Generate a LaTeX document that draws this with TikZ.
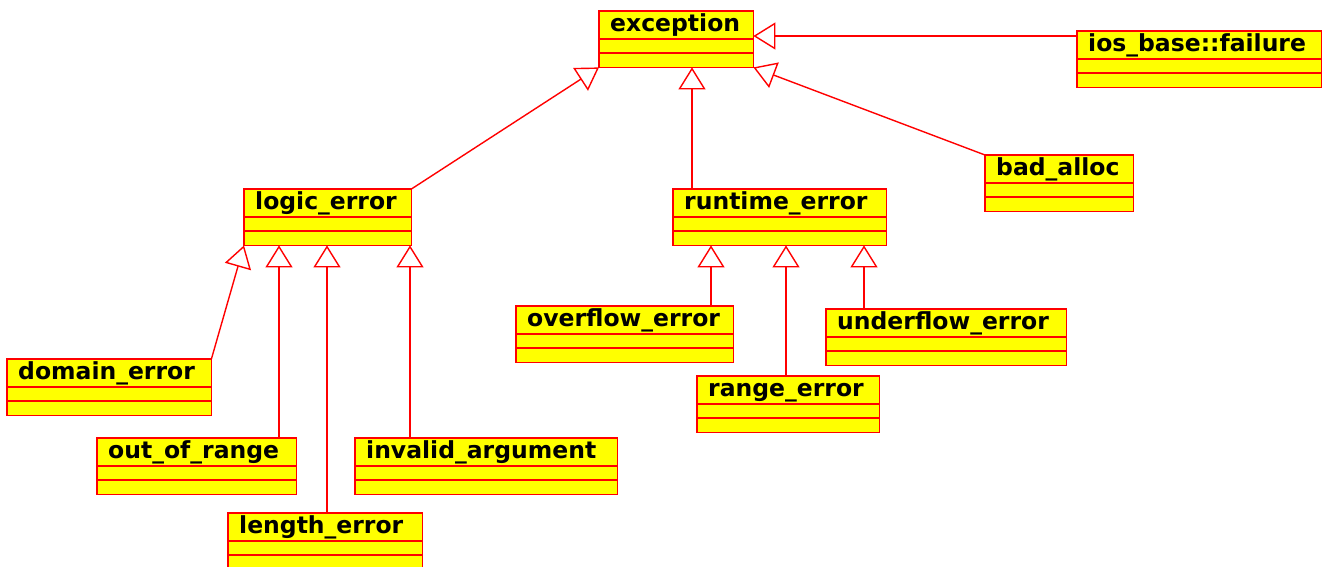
\documentclass[tikz,border=0pt]{standalone}
\usepackage{fontspec}
\setmainfont{DejaVu Sans}
\usetikzlibrary{arrows.meta}
\definecolor{umlred}{RGB}{255,0,0}
\definecolor{umlyel}{RGB}{255,255,0}
\newcommand\umlclass[5]{% name, x, y, width, label
  \node[cls, minimum width=#4pt] (#1) at (#2,#3) {};
  \draw[sep] ([yshift=-28pt]#1.north west) -- ([yshift=-28pt]#1.north east);
  \draw[sep] ([yshift=-42pt]#1.north west) -- ([yshift=-42pt]#1.north east);
  \draw[sep] (#1.north west) rectangle (#1.south east);
  \node[lbl] (#1-t) at ([xshift=11pt,yshift=-20pt]#1.north west) {#5};
}
\begin{document}
\begin{tikzpicture}[x=1pt,y=-1pt,
  cls/.style={fill=umlyel, rectangle, anchor=north west, inner sep=0pt, minimum height=56pt},
  sep/.style={draw=umlred, line width=1.4pt},
  lbl/.style={anchor=base west, inner sep=0pt, font=\fontsize{23.5}{25}\selectfont\bfseries, text=black},
  inh/.style={draw=umlred, line width=1.4pt, -{Triangle[open, length=22pt, width=27pt, line width=1.4pt]}}]
\fill[white] (0,0) rectangle (1328,566);
\useasboundingbox (0,0) rectangle (1328,566);
\umlclass{exc}{599}{11}{154}{exception}
\umlclass{ios}{1077}{31}{244}{ios\_base::failure}
\umlclass{logic}{244}{189}{167}{logic\_error}
\umlclass{runtime}{673}{189}{213}{runtime\_error}
\umlclass{bad}{985}{155}{148}{bad\_alloc}
\umlclass{domain}{7}{359}{204}{domain\_error}
\umlclass{oor}{97}{438}{199}{out\_of\_range}
\umlclass{inv}{355}{438}{262}{invalid\_argument}
\umlclass{len}{228}{513}{194}{length\_error}
\umlclass{over}{516}{306}{217}{overflow\_error}
\umlclass{under}{826}{309}{240}{underflow\_error}
\umlclass{range}{697}{376}{182}{range\_error}
\coordinate (xr) at (692,0);
\coordinate (yi) at (0,36);
\coordinate (x1) at (279,0);
\coordinate (x2) at (327,0);
\coordinate (x3) at (410,0);
\coordinate (x4) at (711,0);
\coordinate (x5) at (786,0);
\coordinate (x6) at (864,0);
\draw[inh] (logic.north east) -- (exc.south west);
\draw[inh] (runtime.north -| xr) -- (exc.south -| xr);
\draw[inh] (bad.north west) -- (exc.south east);
\draw[inh] (ios.west |- yi) -- (exc.east |- yi);
\draw[inh] (domain.north east) -- (logic.south west);
\draw[inh] (oor.north -| x1) -- (logic.south -| x1);
\draw[inh] (len.north -| x2) -- (logic.south -| x2);
\draw[inh] (inv.north -| x3) -- (logic.south -| x3);
\draw[inh] (over.north -| x4) -- (runtime.south -| x4);
\draw[inh] (range.north -| x5) -- (runtime.south -| x5);
\draw[inh] (under.north -| x6) -- (runtime.south -| x6);
\end{tikzpicture}
\end{document}
